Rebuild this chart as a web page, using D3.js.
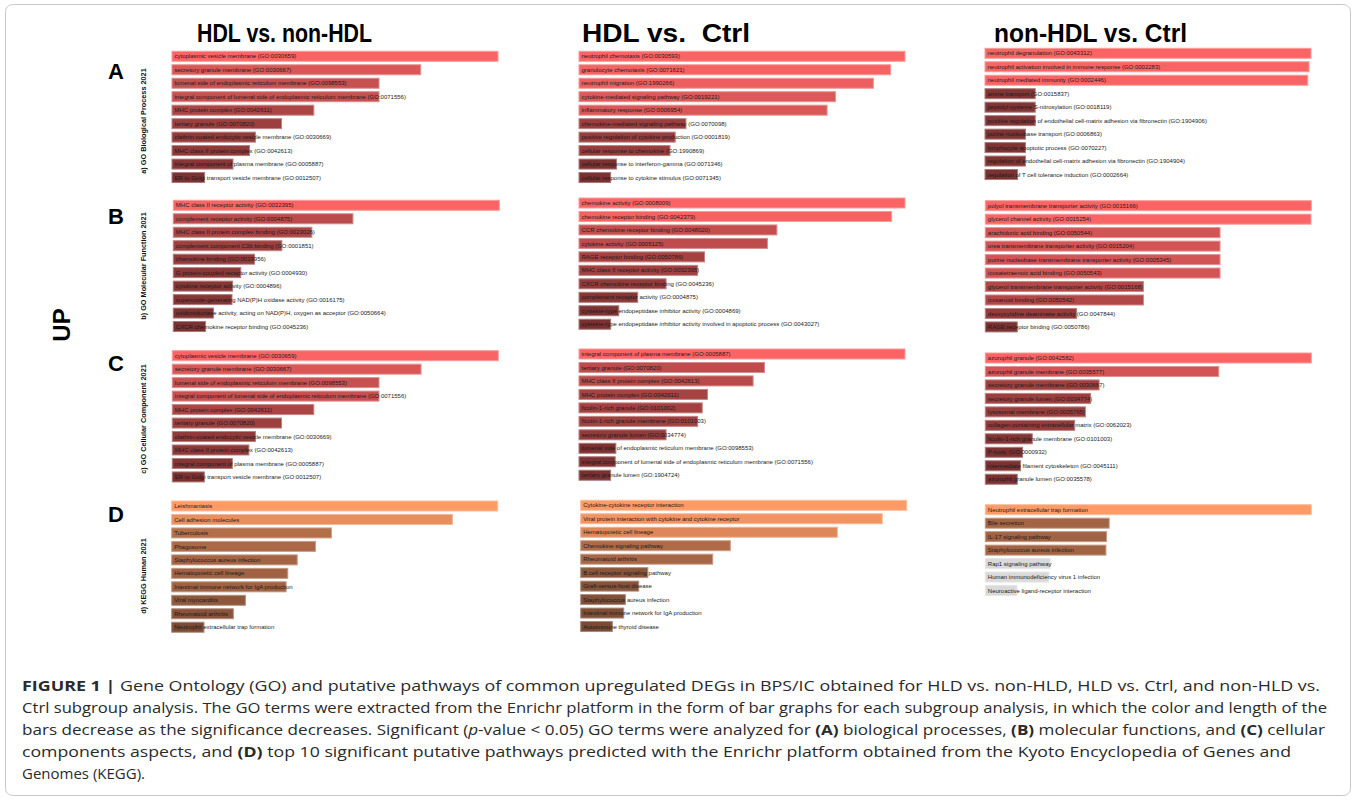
<!DOCTYPE html>
<html><head><meta charset="utf-8">
<script src="https://cdn.jsdelivr.net/npm/d3@7"></script>
<style>
body{margin:0;background:#fff}
svg text{white-space:pre}
</style>
</head><body>
<svg id="chart" width="1356" height="800"></svg>
<script>
// ---------------- DATA ----------------
const columnTitles = ["HDL vs. non-HDL", "HDL vs.  Ctrl", "non-HDL vs. Ctrl"];
const rowLetters = ["A", "B", "C", "D"];
const rowLabels = ["a) GO Biological Process 2021", "b) GO Molecular Function 2021", "c) GO Cellular Component 2021", "d) KEGG Human 2021"];
const sideLabel = "UP";

// relative enrichment scores (bar length)
const bpHN_terms = ["cytoplasmic vesicle membrane (GO:0030659)","secretory granule membrane (GO:0030667)","lumenal side of endoplasmic reticulum membrane (GO:0098553)","integral component of lumenal side of endoplasmic reticulum membrane (GO:0071556)","MHC protein complex (GO:0042611)","tertiary granule (GO:0070820)","clathrin-coated endocytic vesicle membrane (GO:0030669)","MHC class II protein complex (GO:0042613)","integral component of plasma membrane (GO:0005887)","ER to Golgi transport vesicle membrane (GO:0012507)"];
const bpHN_values = [100, 76.3, 63.5, 63.5, 43.5, 33.6, 25.6, 23.8, 18.7, 10.0];

const bpHC_terms = ["neutrophil chemotaxis (GO:0030593)","granulocyte chemotaxis (GO:0071621)","neutrophil migration (GO:1990266)","cytokine-mediated signaling pathway (GO:0019221)","inflammatory response (GO:0006954)","chemokine-mediated signaling pathway (GO:0070098)","positive regulation of cytokine production (GO:0001819)","cellular response to chemokine (GO:1990869)","cellular response to interferon-gamma (GO:0071346)","cellular response to cytokine stimulus (GO:0071345)"];
const bpHC_values = [100, 95.6, 90.3, 78.7, 76.1, 32.8, 29.5, 27.9, 11.5, 9.7];

const bpNC_terms = ["neutrophil degranulation (GO:0043312)","neutrophil activation involved in immune response (GO:0002283)","neutrophil mediated immunity (GO:0002446)","amine transport (GO:0015837)","peptidyl-cysteine S-nitrosylation (GO:0018119)","positive regulation of endothelial cell-matrix adhesion via fibronectin (GO:1904906)","purine nucleobase transport (GO:0006863)","lymphocyte apoptotic process (GO:0070227)","regulation of endothelial cell-matrix adhesion via fibronectin (GO:1904904)","regulation of T cell tolerance induction (GO:0002664)"];
const bpNC_values = [100, 99.4, 99.0, 15.4, 15.4, 15.4, 12.4, 12.4, 12.4, 10.0];

const mfHN_terms = ["MHC class II receptor activity (GO:0032395)","complement receptor activity (GO:0004875)","MHC class II protein complex binding (GO:0023026)","complement component C3b binding (GO:0001851)","chemokine binding (GO:0019956)","G protein-coupled receptor activity (GO:0004930)","cytokine receptor activity (GO:0004896)","superoxide-generating NAD(P)H oxidase activity (GO:0016175)","oxidoreductase activity, acting on NAD(P)H, oxygen as acceptor (GO:0050664)","CXCR chemokine receptor binding (GO:0045236)"];
const mfHN_values = [100, 55.1, 42.5, 33.3, 24.9, 20.7, 18.2, 18.0, 12.3, 9.9];

const mfHC_terms = ["chemokine activity (GO:0008009)","chemokine receptor binding (GO:0042379)","CCR chemokine receptor binding (GO:0048020)","cytokine activity (GO:0005125)","RAGE receptor binding (GO:0050786)","MHC class II receptor activity (GO:0032395)","CXCR chemokine receptor binding (GO:0045236)","complement receptor activity (GO:0004875)","cysteine-type endopeptidase inhibitor activity (GO:0004869)","cysteine-type endopeptidase inhibitor activity involved in apoptotic process (GO:0043027)"];
const mfHC_values = [100, 95.9, 60.7, 57.8, 38.5, 36.4, 26.7, 18.0, 12.2, 9.7];

const mfNC_terms = ["polyol transmembrane transporter activity (GO:0015166)","glycerol channel activity (GO:0015254)","arachidonic acid binding (GO:0050544)","urea transmembrane transporter activity (GO:0015204)","purine nucleobase transmembrane transporter activity (GO:0005345)","icosatetraenoic acid binding (GO:0050543)","glycerol transmembrane transporter activity (GO:0015168)","icosanoid binding (GO:0050542)","deoxycytidine deaminase activity (GO:0047844)","RAGE receptor binding (GO:0050786)"];
const mfNC_values = [100, 99.9, 72.0, 72.0, 72.0, 72.0, 48.5, 48.5, 28.0, 9.8];

const ccHN_terms = ["cytoplasmic vesicle membrane (GO:0030659)","secretory granule membrane (GO:0030667)","lumenal side of endoplasmic reticulum membrane (GO:0098553)","integral component of lumenal side of endoplasmic reticulum membrane (GO:0071556)","MHC protein complex (GO:0042611)","tertiary granule (GO:0070820)","clathrin-coated endocytic vesicle membrane (GO:0030669)","MHC class II protein complex (GO:0042613)","integral component of plasma membrane (GO:0005887)","ER to Golgi transport vesicle membrane (GO:0012507)"];
const ccHN_values = [100, 76.3, 63.4, 63.4, 43.4, 33.5, 25.5, 23.5, 18.4, 9.8];

const ccHC_terms = ["integral component of plasma membrane (GO:0005887)","tertiary granule (GO:0070820)","MHC class II protein complex (GO:0042613)","MHC protein complex (GO:0042611)","ficolin-1-rich granule (GO:0101002)","ficolin-1-rich granule membrane (GO:0101003)","secretory granule lumen (GO:0034774)","lumenal side of endoplasmic reticulum membrane (GO:0098553)","integral component of lumenal side of endoplasmic reticulum membrane (GO:0071556)","tertiary granule lumen (GO:1904724)"];
const ccHC_values = [100, 56.9, 53.4, 39.4, 37.8, 36.4, 26.7, 11.3, 11.1, 9.7];

const ccNC_terms = ["azurophil granule (GO:0042582)","azurophil granule membrane (GO:0035577)","secretory granule membrane (GO:0030667)","secretory granule lumen (GO:0034774)","lysosomal membrane (GO:0005765)","collagen-containing extracellular matrix (GO:0062023)","ficolin-1-rich granule membrane (GO:0101003)","P-body (GO:0000932)","intermediate filament cytoskeleton (GO:0045111)","azurophil granule lumen (GO:0035578)"];
const ccNC_values = [100, 71.6, 34.9, 32.3, 30.7, 27.4, 14.4, 11.4, 10.8, 9.8];

const keggHN_terms = ["Leishmaniasis","Cell adhesion molecules","Tuberculosis","Phagosome","Staphylococcus aureus infection","Hematopoietic cell lineage","Intestinal immune network for IgA production","Viral myocarditis","Rheumatoid arthritis","Neutrophil extracellular trap formation"];
const keggHN_values = [100, 86.1, 49.0, 44.1, 38.5, 35.6, 35.1, 22.6, 18.9, 9.9];

const keggHC_terms = ["Cytokine-cytokine receptor interaction","Viral protein interaction with cytokine and cytokine receptor","Hematopoietic cell lineage","Chemokine signaling pathway","Rheumatoid arthritis","B cell receptor signaling pathway","Graft-versus-host disease","Staphylococcus aureus infection","Intestinal immune network for IgA production","Autoimmune thyroid disease"];
const keggHC_values = [100, 92.5, 78.7, 45.9, 40.5, 20.6, 17.8, 13.7, 13.2, 9.7];

const keggNC_terms = ["Neutrophil extracellular trap formation","Bile secretion","IL-17 signaling pathway","Staphylococcus aureus infection","Rap1 signaling pathway","Human immunodeficiency virus 1 infection","Neuroactive ligand-receptor interaction"];
const keggNC_values = [100, 38.0, 37.2, 37.0, 19.9, 19.5, 9.7];
const keggNC_significant = [true, true, true, true, false, false, false];

const captionLines = [
  [{t:"FIGURE 1 | ", b:true}, {t:"Gene Ontology (GO) and putative pathways of common upregulated DEGs in BPS/IC obtained for HLD vs. non-HLD, HLD vs. Ctrl, and non-HLD vs."}],
  [{t:"Ctrl subgroup analysis. The GO terms were extracted from the Enrichr platform in the form of bar graphs for each subgroup analysis, in which the color and length of the"}],
  [{t:"bars decrease as the significance decreases. Significant ("}, {t:"p", i:true}, {t:"-value < 0.05) GO terms were analyzed for "}, {t:"(A)", b:true}, {t:" biological processes, "}, {t:"(B)", b:true}, {t:" molecular functions, and "}, {t:"(C)", b:true}, {t:" cellular"}],
  [{t:"components aspects, and "}, {t:"(D)", b:true}, {t:" top 10 significant putative pathways predicted with the Enrichr platform obtained from the Kyoto Encyclopedia of Genes and"}],
  [{t:"Genomes (KEGG)."}]
];

// ---------------- LAYOUT ----------------
const svg = d3.select("#chart");

svg.append("rect").attr("x", 5.5).attr("y", 4.5).attr("width", 1345).attr("height", 791)
  .attr("rx", 7).attr("fill", "none").attr("stroke", "#c9c9c9").attr("stroke-width", 1);

const panels = [
  [{terms: bpHN_terms, values: bpHN_values}, {terms: bpHC_terms, values: bpHC_values}, {terms: bpNC_terms, values: bpNC_values}],
  [{terms: mfHN_terms, values: mfHN_values}, {terms: mfHC_terms, values: mfHC_values}, {terms: mfNC_terms, values: mfNC_values}],
  [{terms: ccHN_terms, values: ccHN_values}, {terms: ccHC_terms, values: ccHC_values}, {terms: ccNC_terms, values: ccNC_values}],
  [{terms: keggHN_terms, values: keggHN_values, kegg: true}, {terms: keggHC_terms, values: keggHC_values, kegg: true}, {terms: keggNC_terms, values: keggNC_values, kegg: true, sig: keggNC_significant}]
];

// panel placement: left edge of bars and centre of first bar
const panelLeft = [[172, 579, 985], [173.3, 579, 985.3], [172.3, 579, 985.3], [171.7, 580.7, 985.3]];
const panelFirst = [[56.3, 56.3, 53.3], [205.3, 203, 205.7], [355.7, 354, 358], [506, 505.3, 509.7]];
const panelWidth = 326;
const step = 13.47, barH = 10;
const pad = (step - barH) / step;

const redColor = d3.scaleLinear().domain([0, 100]).range(["#6d2c2c", "#fb6464"]).interpolate(d3.interpolateRgb);
const orangeColor = d3.scaleLinear().domain([0, 100]).range(["#6c4330", "#fd9a65"]).interpolate(d3.interpolateRgb);

panels.forEach((row, ri) => {
  row.forEach((p, ci) => {
    const n = p.terms.length;
    const c0 = panelFirst[ri][ci];
    const x0 = panelLeft[ri][ci];
    const x = d3.scaleLinear().domain([0, d3.max(p.values)]).range([0, panelWidth]);
    const y = d3.scaleBand().domain(d3.range(n))
      .range([c0 - step / 2, c0 - step / 2 + n * step])
      .paddingInner(pad).paddingOuter(pad / 2);
    const g = svg.append("g").attr("transform", `translate(${x0},0)`);
    const data = p.terms.map((t, i) => ({t, v: p.values[i], i, sig: p.sig ? p.sig[i] : true}));
    const fill = d => !d.sig ? "#d9d9d9" : (p.kegg ? orangeColor(d.v) : redColor(d.v));
    g.selectAll("rect.bar").data(data).join("rect")
      .attr("class", "bar")
      .attr("x", 0).attr("y", d => y(d.i))
      .attr("width", d => x(d.v)).attr("height", y.bandwidth())
      .attr("fill", fill)
      .attr("stroke", d => d3.interpolateRgb(fill(d), "#ffffff")(0.35))
      .attr("stroke-width", 1);
    g.selectAll("text.lab").data(data).join("text")
      .attr("class", "lab")
      .attr("x", 2.5).attr("y", d => y(d.i) + y.bandwidth() / 2 + 2.1)
      .attr("font-family", "Liberation Sans, Arial, sans-serif")
      .attr("font-size", 6)
      .attr("fill", "#1c1c1c")
      .text(d => d.t);
  });
});

// column titles
const titleX = [[197, 175], [582, 168], [994, 193]];
columnTitles.forEach((t, i) => {
  svg.append("text").attr("x", titleX[i][0]).attr("y", 42)
    .attr("font-family", "Liberation Sans, Arial, sans-serif")
    .attr("font-weight", "bold").attr("font-size", 26)
    .attr("textLength", titleX[i][1]).attr("lengthAdjust", "spacingAndGlyphs")
    .attr("fill", "#000").text(t);
});

// row letters
const letterY = [79, 224, 371, 522];
rowLetters.forEach((t, i) => {
  svg.append("text").attr("x", 116).attr("y", letterY[i]).attr("text-anchor", "middle")
    .attr("font-family", "Liberation Sans, Arial, sans-serif")
    .attr("font-weight", "bold").attr("font-size", 22).attr("fill", "#000").text(t);
});

// rotated row labels
const labelCY = [121, 266, 419, 576];
rowLabels.forEach((t, i) => {
  svg.append("text")
    .attr("transform", `translate(145.5,${labelCY[i]}) rotate(-90)`)
    .attr("text-anchor", "middle")
    .attr("font-family", "Liberation Sans, Arial, sans-serif")
    .attr("font-weight", "bold").attr("font-size", 7.3).attr("fill", "#111").text(t);
});

// UP
svg.append("text").attr("transform", "translate(70,325) rotate(-90)")
  .attr("text-anchor", "middle")
  .attr("font-family", "Liberation Sans, Arial, sans-serif")
  .attr("font-weight", "bold").attr("font-size", 24).attr("fill", "#000").text(sideLabel);

// caption
const capBase = [691, 713, 735, 757, 779];
const capWidth = [1298, 1305, 1303, 1269, null];
captionLines.forEach((line, li) => {
  const txt = svg.append("text").attr("x", 22).attr("y", capBase[li])
    .attr("font-family", "Open Sans, Liberation Sans, Arial, sans-serif")
    .attr("font-size", 15).attr("fill", "#2a2a2a");
  if (capWidth[li]) txt.attr("textLength", capWidth[li]).attr("lengthAdjust", "spacingAndGlyphs");
  line.forEach(seg => {
    txt.append("tspan")
      .attr("font-weight", seg.b ? "bold" : null)
      .attr("font-style", seg.i ? "italic" : null)
      .text(seg.t);
  });
});
</script>
</body></html>
